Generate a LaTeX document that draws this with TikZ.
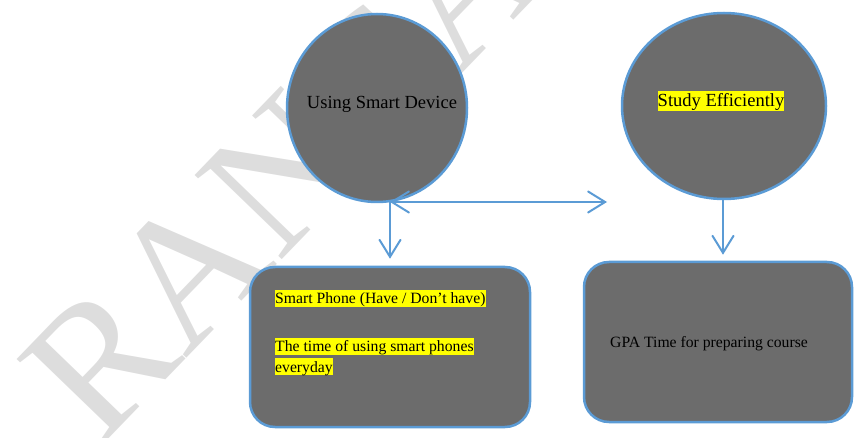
\documentclass[tikz,border=0pt]{standalone}
\usepackage{fontspec}
\setmainfont{Liberation Serif}
\usetikzlibrary{arrows.meta,shapes.geometric}
\definecolor{edgeblue}{HTML}{5B9BD5}
\definecolor{shapegray}{HTML}{6C6C6C}
\definecolor{markgray}{HTML}{DDDDDD}
\definecolor{hly}{HTML}{FFFF00}
% yellow highlight behind a line of text
\newcommand\hlt[1]{{\setlength\fboxsep{0pt}\colorbox{hly}{\rule[-0.22em]{0pt}{1.08em}#1}}}
\tikzset{
  bubble/.style={ellipse, draw=edgeblue, fill=shapegray, line width=2.5pt, inner sep=0pt},
  panel/.style={rectangle, rounded corners=25pt, draw=edgeblue, fill=shapegray, line width=2.5pt, inner sep=0pt},
  bigtxt/.style={inner sep=0pt, font=\fontsize{18.5}{22}\selectfont},
  smalltxt/.style={inner sep=0pt, anchor=base west, font=\fontsize{15.7}{19}\selectfont},
  link/.style={draw=edgeblue, line width=2pt, line cap=round},
  vtip/.tip={Straight Barb[length=17pt, width=21pt, line cap=round]}
}
\begin{document}
\begin{tikzpicture}[x=1pt, y=-1pt]
\useasboundingbox (0,0) rectangle (854,438);

% faint watermark lettering behind the chart
\node[markgray, rotate=46, anchor=base west, inner sep=0pt,
      font=\fontsize{185}{185}\selectfont] (mark) at (100,448) {RANCANG};

% the two topic bubbles
\node[bubble, minimum width=180pt, minimum height=188pt] (c1) at (377,108) {};
\node[bubble, minimum width=204pt, minimum height=186pt] (c2) at (724,106) {};
\node[bigtxt, anchor=base] (t1) at (382,109) {Using Smart Device};
\node[bigtxt, anchor=base] (t2) at (721,107) {\hlt{Study Efficiently}};

% the two detail panels
\node[panel, minimum width=280pt, minimum height=160pt] (bx1) at (390,347) {};
\node[panel, minimum width=268pt, minimum height=160pt] (bx2) at (718,342) {};
\node[smalltxt] (p1) at (275,304) {\hlt{Smart Phone (Have / Don’t have)}};
\node[smalltxt] (p2) at (275,352) {\hlt{The time of using smart phones}};
\node[smalltxt] (p3) at (275,372) {\hlt{everyday}};
\node[smalltxt] (g1) at (610,347) {GPA Time for preparing course};

% connectors
\coordinate (fork) at (390,202);
\coordinate (east) at (607,202);
\coordinate (rcol) at (723,0);
\draw[link, -vtip] (fork) -- ([yshift=7pt]bx1.north -| fork);
\draw[link, vtip-vtip] (fork) -- (east);
\draw[link, -vtip] (c2.south -| rcol) -- ([yshift=6pt]bx2.north -| rcol);
\end{tikzpicture}
\end{document}
